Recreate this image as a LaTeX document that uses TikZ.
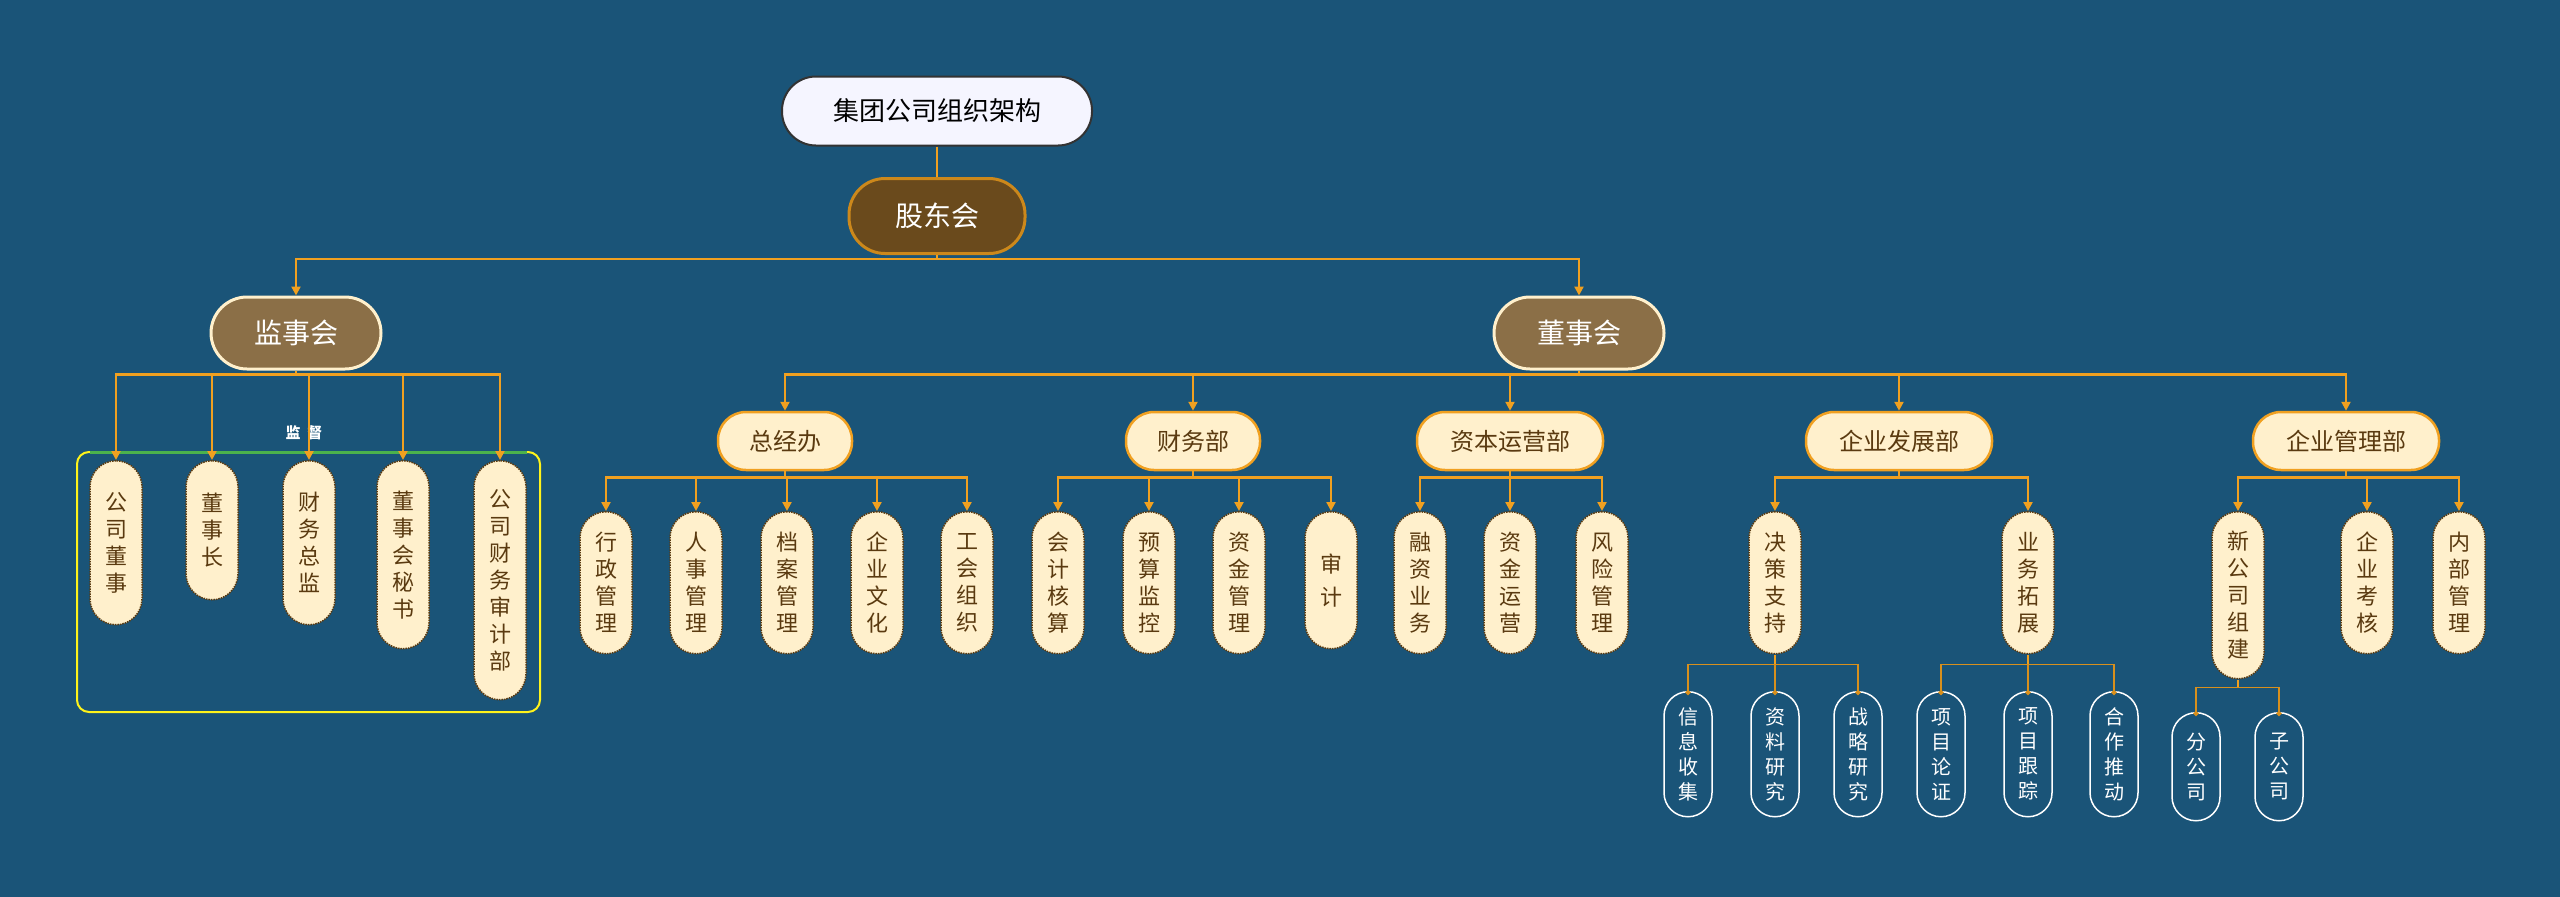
\documentclass[tikz,border=0pt]{standalone}
\usepackage{fontspec}
\newfontfamily\cjk{Noto Sans CJK SC}
\usetikzlibrary{arrows.meta}
\definecolor{bgblue}{HTML}{1A5478}
\definecolor{lineor}{HTML}{F0A020}
\definecolor{cream}{HTML}{FFF0CC}
\definecolor{brownd}{HTML}{6A4A1C}
\definecolor{brownm}{HTML}{8B6F47}
\definecolor{textbr}{HTML}{5A3A10}
\tikzset{
  pill/.style={rectangle, rounded corners=#1, font=\cjk, inner sep=0pt, align=center},
  title/.style={pill=34pt, draw=black!80, line width=2pt, fill=white!96!blue, text=black,
    minimum width=310pt, minimum height=69pt, font=\cjk\fontsize{26}{30}\selectfont},
  topbox/.style={pill=36pt, draw=#1, line width=3pt, text=white,
    minimum width=170pt, minimum height=72pt, font=\cjk\fontsize{28}{32}\selectfont},
  dept/.style={pill=28pt, draw=lineor, line width=2.5pt, fill=cream, text=textbr,
    minimum height=58pt, font=\cjk\fontsize{24}{28}\selectfont},
  leaf/.style={pill=26pt, draw=textbr, densely dotted, line width=1.5pt, fill=cream, text=textbr,
    minimum width=52pt, anchor=north, font=\cjk\fontsize{22}{27}\selectfont},
  subleaf/.style={pill=24pt, draw=white, line width=1.5pt, fill=bgblue, text=white,
    minimum width=48pt, minimum height=125pt, anchor=north, font=\cjk\fontsize{20}{25}\selectfont},
  conn/.style={draw=lineor, line width=2.5pt},
  arr/.style={conn, -{Triangle[length=9pt,width=9pt]}},
  thin/.style={draw=lineor!90!black, line width=1.5pt, -{Circle[length=5pt]}},
}
\begin{document}
\begin{tikzpicture}[x=1pt,y=-1pt]
\fill[bgblue] (0,0) rectangle (2560,897);
\useasboundingbox (0,0) rectangle (2560,897);

% top
\node[title] (top) at (937,111) {集团公司组织架构};
\node[topbox=lineor!85!black, fill=brownd, minimum width=176pt, minimum height=75pt] (gd) at (937,216) {股东会};
\node[topbox=cream, fill=brownm] (js) at (296,333) {监事会};
\node[topbox=cream, fill=brownm] (ds) at (1579,333) {董事会};
\draw[conn] (top) -- (gd);
\path (gd.south) ++(0,4) coordinate (gdb);
\draw[conn] (gd.south) -- (gdb);
\foreach \c in {js,ds} \draw[arr] (gdb) -| (\c.north);

% supervisory board
\draw[yellow!90!white, line width=2pt, rounded corners=12pt] (77,452) rectangle (540,712);
\draw[green!40!gray, line width=3pt] (90,452) -- (527,452);
\node[font=\cjk\bfseries\itshape\fontsize{15}{15}\selectfont, text=white] (jd) at (304,433) {监\ \ 督};
\node[leaf, minimum height=164pt] (j1) at (116,460) {公\\司\\董\\事};
\node[leaf, minimum height=139pt] (j2) at (212,460) {董\\事\\长};
\node[leaf, minimum height=164pt] (j3) at (309,460) {财\\务\\总\\监};
\node[leaf, minimum height=188pt] (j4) at (403,460) {董\\事\\会\\秘\\书};
\node[leaf, minimum height=239pt] (j5) at (500,460) {公\\司\\财\\务\\审\\计\\部};
\path (js.south) ++(0,4) coordinate (jsb);
\draw[conn] (js.south) -- (jsb);
\foreach \c in {j1,j2,j3,j4,j5} \draw[arr] (jsb) -| (\c.north);

% departments
\node[dept, minimum width=134pt] (zj) at (785,441) {总经办};
\node[dept, minimum width=134pt] (cw) at (1193,441) {财务部};
\node[dept, minimum width=186pt] (zb) at (1510,441) {资本运营部};
\node[dept, minimum width=186pt] (fz) at (1899,441) {企业发展部};
\node[dept, minimum width=186pt] (gl) at (2346,441) {企业管理部};
\path (ds.south) ++(0,4) coordinate (dsb);
\draw[conn] (ds.south) -- (dsb);
\foreach \c in {zj,cw,zb,fz,gl} \draw[arr] (dsb) -| (\c.north);

% leaves
\node[leaf, minimum height=142pt] (z1) at (606,511) {行\\政\\管\\理};
\node[leaf, minimum height=142pt] (z2) at (696,511) {人\\事\\管\\理};
\node[leaf, minimum height=142pt] (z3) at (787,511) {档\\案\\管\\理};
\node[leaf, minimum height=142pt] (z4) at (877,511) {企\\业\\文\\化};
\node[leaf, minimum height=142pt] (z5) at (967,511) {工\\会\\组\\织};
\node[leaf, minimum height=142pt] (c1) at (1058,511) {会\\计\\核\\算};
\node[leaf, minimum height=142pt] (c2) at (1149,511) {预\\算\\监\\控};
\node[leaf, minimum height=142pt] (c3) at (1239,511) {资\\金\\管\\理};
\node[leaf, minimum height=137pt] (c4) at (1331,511) {审\\[6pt]计};
\node[leaf, minimum height=142pt] (b1) at (1420,511) {融\\资\\业\\务};
\node[leaf, minimum height=142pt] (b2) at (1510,511) {资\\金\\运\\营};
\node[leaf, minimum height=142pt] (b3) at (1602,511) {风\\险\\管\\理};
\node[leaf, minimum height=142pt] (f1) at (1775,511) {决\\策\\支\\持};
\node[leaf, minimum height=142pt] (f2) at (2028,511) {业\\务\\拓\\展};
\node[leaf, minimum height=167pt] (g1) at (2238,511) {新\\公\\司\\组\\建};
\node[leaf, minimum height=142pt] (g2) at (2367,511) {企\\业\\考\\核};
\node[leaf, minimum height=142pt] (g3) at (2459,511) {内\\部\\管\\理};
\foreach \p/\cs in {zj/{z1,z2,z3,z4,z5}, cw/{c1,c2,c3,c4}, zb/{b1,b2,b3}, fz/{f1,f2}, gl/{g1,g2,g3}} {
  \path (\p.south) ++(0,6) coordinate (pb);
  \draw[conn] (\p.south) -- (pb);
  \foreach \c in \cs \draw[arr] (pb) -| (\c.north);
}

% sub leaves
\node[subleaf] (s1) at (1688,691) {信\\息\\收\\集};
\node[subleaf] (s2) at (1775,691) {资\\料\\研\\究};
\node[subleaf] (s3) at (1858,691) {战\\略\\研\\究};
\node[subleaf] (s4) at (1941,691) {项\\目\\论\\证};
\node[subleaf] (s5) at (2028,691) {项\\目\\跟\\踪};
\node[subleaf] (s6) at (2114,691) {合\\作\\推\\动};
\node[subleaf, minimum height=108pt] (s7) at (2196,712) {分\\公\\司};
\node[subleaf, minimum height=108pt] (s8) at (2279,712) {子\\公\\司};
\foreach \p/\cs/\d in {f1/{s1,s2,s3}/10, f2/{s4,s5,s6}/10, g1/{s7,s8}/8} {
  \path (\p.south) ++(0,\d) coordinate (pb);
  \draw[conn, line width=1.5pt] (\p.south) -- (pb);
  \foreach \c in \cs \draw[thin] (pb) -| ([yshift=-4pt]\c.north);
}
\end{tikzpicture}
\end{document}
